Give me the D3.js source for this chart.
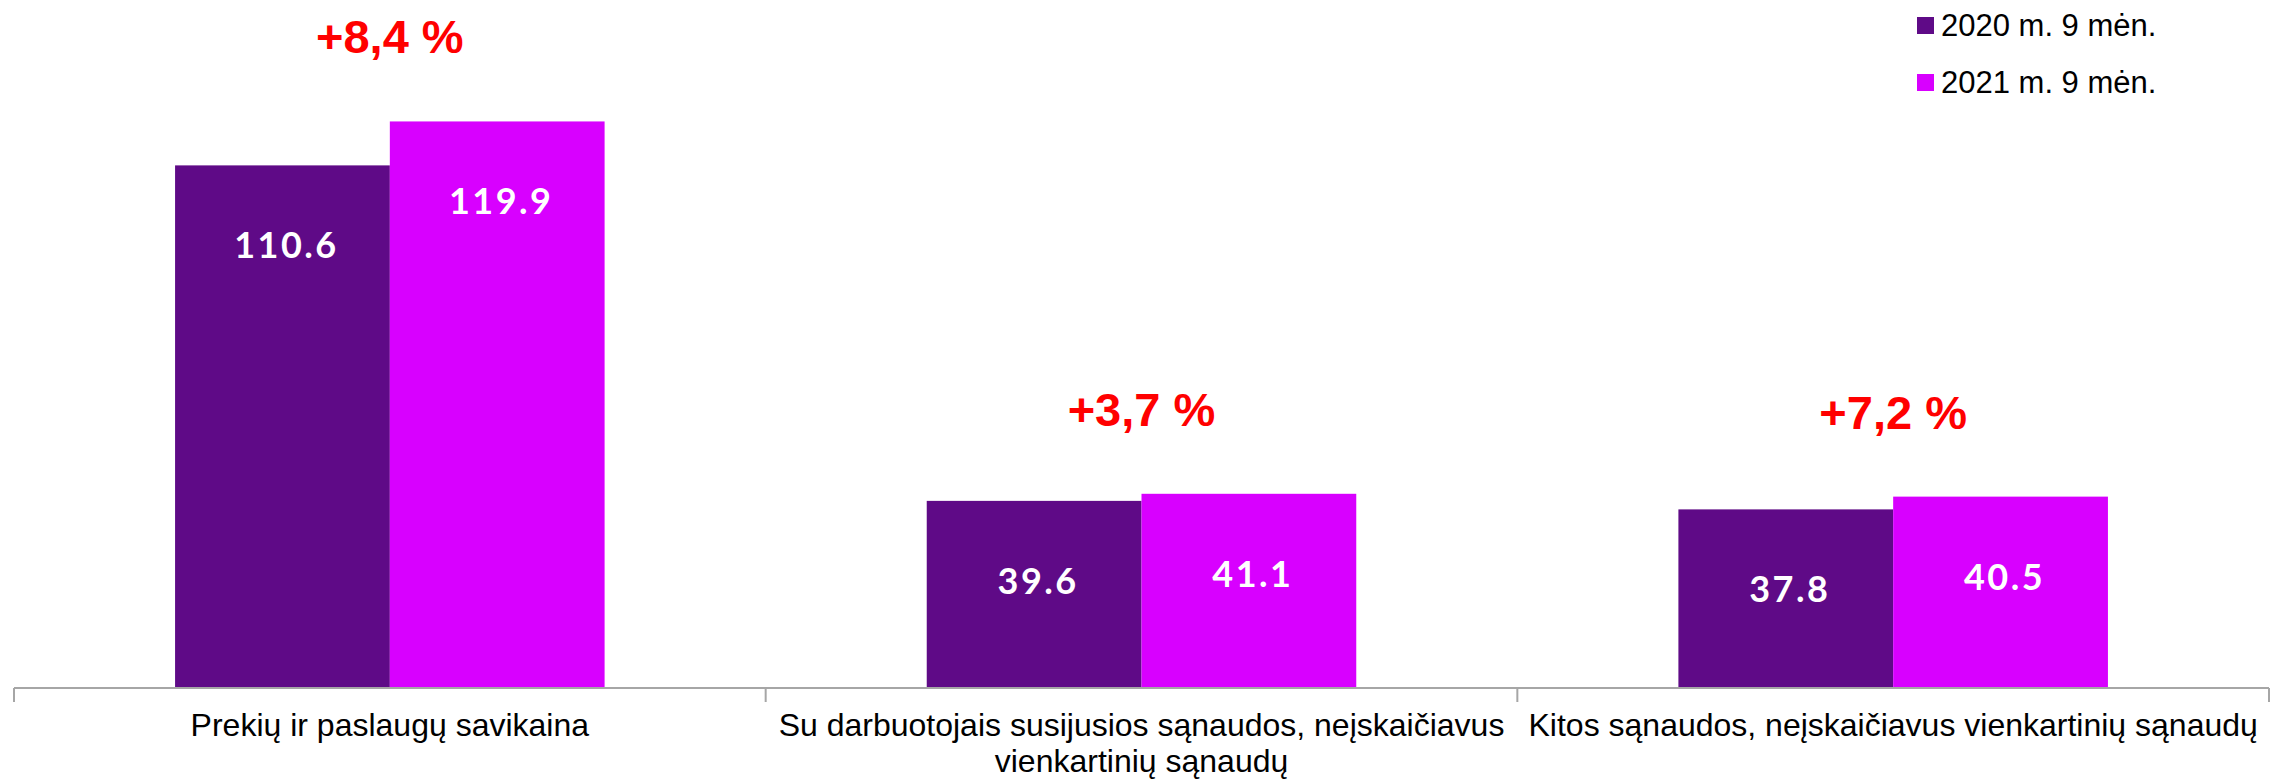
<!DOCTYPE html>
<html>
<head>
<meta charset="utf-8">
<script src="https://cdn.jsdelivr.net/npm/d3@7"></script>
<style>
  body { margin: 0; background: #fff; }
  svg { display: block; }
</style>
</head>
<body>
<div id="chart"></div>
<script>
const categories = [
  'Prekių ir paslaugų savikaina',
  'Su darbuotojais susijusios sąnaudos, neįskaičiavus vienkartinių sąnaudų',
  'Kitos sąnaudos, neįskaičiavus vienkartinių sąnaudų'
]
const seriesNames = ['2020 m. 9 mėn.', '2021 m. 9 mėn.']
const values2020 = [110.6, 39.6, 37.8]
const values2021 = [119.9, 41.1, 40.5]
const changeLabels = ['+8,4 %', '+3,7 %', '+7,2 %']
const colors = ['#5f0a87', '#d800ff']

const width = 2270
const height = 781
const margin = { top: 0, right: 1, bottom: 93, left: 14 }
const axisY = height - margin.bottom

const svg = d3.select('#chart')
  .append('svg')
  .attr('width', width)
  .attr('height', height)

// rows of data, one per category
const rows = categories.map(function(c, i) {
  return { cat: c, vals: [values2020[i], values2021[i]], change: changeLabels[i] }
})

const x0 = d3.scaleBand()
  .domain(categories)
  .range([margin.left, width - margin.right])
  .paddingInner(0)
  .paddingOuter(0)

const x1 = d3.scaleBand()
  .domain(seriesNames)
  .range([0, x0.bandwidth()])
  .paddingInner(0)
  .paddingOuter(0.75)

const y = d3.scaleLinear()
  .domain([0, 145.6])
  .range([axisY, 0])

const groups = svg.selectAll('g.cat')
  .data(rows)
  .enter()
  .append('g')
  .attr('class', 'cat')
  .attr('transform', d => 'translate(' + x0(d.cat) + ',0)')

groups.selectAll('rect')
  .data(d => d.vals.map((v, i) => ({ name: seriesNames[i], v: v, i: i })))
  .enter()
  .append('rect')
  .attr('x', d => x1(d.name))
  .attr('y', d => y(d.v))
  .attr('width', x1.bandwidth())
  .attr('height', d => y(0) - y(d.v))
  .style('fill', d => colors[d.i])

// value labels inside bars
groups.selectAll('text.val')
  .data(d => d.vals.map((v, i) => ({ name: seriesNames[i], v: v })))
  .enter()
  .append('text')
  .attr('class', 'val')
  .attr('x', d => x1(d.name) + x1.bandwidth() / 2 + 4)
  .attr('y', d => y(d.v) + 93)
  .attr('text-anchor', 'middle')
  .style('font-family', 'Lato, sans-serif')
  .style('font-weight', 'bold')
  .style('font-size', '36px')
  .style('letter-spacing', '2.5px')
  .style('fill', '#fff')
  .text(d => d3.format('.1f')(d.v))

// change labels above groups
groups.append('text')
  .attr('x', x0.bandwidth() / 2)
  .attr('y', d => y(d3.max(d.vals)) - 68)
  .attr('text-anchor', 'middle')
  .style('font-family', '"Liberation Sans", Arial, sans-serif')
  .style('font-weight', 'bold')
  .style('font-size', '47px')
  .style('fill', '#ff0000')
  .text(d => d.change)

// axis line and boundary ticks
const axisG = svg.append('g').attr('class', 'axis')
axisG.append('line')
  .attr('x1', x0.range()[0])
  .attr('x2', x0.range()[1])
  .attr('y1', axisY)
  .attr('y2', axisY)
  .style('stroke', '#a6a6a6')
  .style('stroke-width', 2)

const bounds = categories.map(c => x0(c)).concat([x0.range()[1]])
axisG.selectAll('line.tick')
  .data(bounds)
  .enter()
  .append('line')
  .attr('class', 'tick')
  .attr('x1', d => d)
  .attr('x2', d => d)
  .attr('y1', axisY)
  .attr('y2', axisY + 14)
  .style('stroke', '#a6a6a6')
  .style('stroke-width', 2)

// category labels, wrapped to band width
const catLabels = axisG.selectAll('text.cat')
  .data(categories)
  .enter()
  .append('text')
  .attr('class', 'cat')
  .attr('x', d => x0(d) + x0.bandwidth() / 2)
  .attr('y', axisY + 48)
  .attr('text-anchor', 'middle')
  .style('font-family', '"Liberation Sans", Arial, sans-serif')
  .style('font-size', '32px')
  .style('fill', '#000')
  .text(d => d)

catLabels.each(function(d) {
  wrap(d3.select(this), x0.bandwidth() - 8)
})

function wrap(textSel, maxW) {
  const words = textSel.text().split(/\s+/)
  const xPos = textSel.attr('x')
  textSel.text(null)
  let line = []
  let tspan = textSel.append('tspan').attr('x', xPos).attr('dy', 0)
  words.forEach(function(w) {
    line.push(w)
    tspan.text(line.join(' '))
    if (tspan.node().getComputedTextLength() > maxW && line.length > 1) {
      line.pop()
      tspan.text(line.join(' '))
      line = [w]
      tspan = textSel.append('tspan').attr('x', xPos).attr('dy', 36).text(w)
    }
  })
}

// legend
const legend = svg.append('g')
  .attr('transform', 'translate(1917,17)')

const legendItems = legend.selectAll('g')
  .data(seriesNames)
  .enter()
  .append('g')
  .attr('transform', (d, i) => 'translate(0,' + i * 57 + ')')

legendItems.append('rect')
  .attr('width', 17)
  .attr('height', 17)
  .style('fill', (d, i) => colors[i])

legendItems.append('text')
  .attr('x', 24)
  .attr('y', 19)
  .style('font-family', '"Liberation Sans", Arial, sans-serif')
  .style('font-size', '31px')
  .style('fill', '#000')
  .text(d => d)
</script>
</body>
</html>
